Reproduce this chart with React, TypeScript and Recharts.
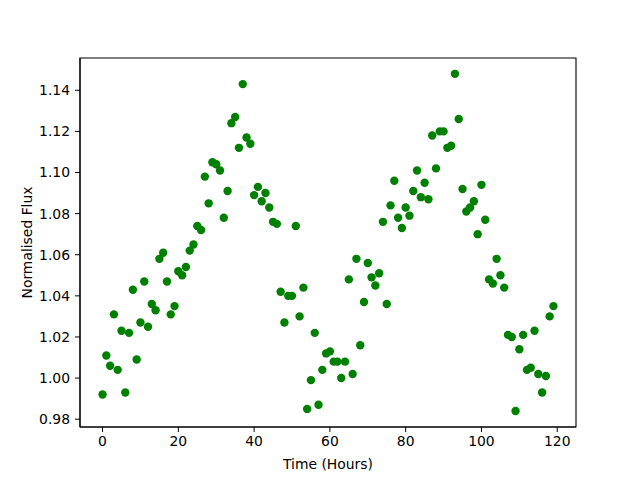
import { ScatterChart, Scatter, XAxis, YAxis, ReferenceArea } from 'recharts'

const hours = [
  0, 1, 2, 3, 4, 5, 6, 7, 8, 9, 10, 11, 12, 13, 14, 15, 16, 17, 18, 19,
  20, 21, 22, 23, 24, 25, 26, 27, 28, 29, 30, 31, 32, 33, 34, 35, 36, 37, 38, 39,
  40, 41, 42, 43, 44, 45, 46, 47, 48, 49, 50, 51, 52, 53, 54, 55, 56, 57, 58, 59,
  60, 61, 62, 63, 64, 65, 66, 67, 68, 69, 70, 71, 72, 73, 74, 75, 76, 77, 78, 79,
  80, 81, 82, 83, 84, 85, 86, 87, 88, 89, 90, 91, 92, 93, 94, 95, 96, 97, 98, 99,
  100, 101, 102, 103, 104, 105, 106, 107, 108, 109, 110, 111, 112, 113, 114, 115, 116, 117, 118, 119,
]

const flux = [
  0.992, 1.011, 1.006, 1.031, 1.004, 1.023, 0.993, 1.022, 1.043, 1.009,
  1.027, 1.047, 1.025, 1.036, 1.033, 1.058, 1.061, 1.047, 1.031, 1.035,
  1.052, 1.05, 1.054, 1.062, 1.065, 1.074, 1.072, 1.098, 1.085, 1.105,
  1.104, 1.101, 1.078, 1.091, 1.124, 1.127, 1.112, 1.143, 1.117, 1.114,
  1.089, 1.093, 1.086, 1.09, 1.083, 1.076, 1.075, 1.042, 1.027, 1.04,
  1.04, 1.074, 1.03, 1.044, 0.985, 0.999, 1.022, 0.987, 1.004, 1.012,
  1.013, 1.008, 1.008, 1.0, 1.008, 1.048, 1.002, 1.058, 1.016, 1.037,
  1.056, 1.049, 1.045, 1.051, 1.076, 1.036, 1.084, 1.096, 1.078, 1.073,
  1.083, 1.079, 1.091, 1.101, 1.088, 1.095, 1.087, 1.118, 1.102, 1.12,
  1.12, 1.112, 1.113, 1.148, 1.126, 1.092, 1.081, 1.083, 1.086, 1.07,
  1.094, 1.077, 1.048, 1.046, 1.058, 1.05, 1.044, 1.021, 1.02, 0.984,
  1.014, 1.021, 1.004, 1.005, 1.023, 1.002, 0.993, 1.001, 1.03, 1.035,
]

const xTicks = [0, 20, 40, 60, 80, 100, 120]
const yTicks = [0.98, 1.0, 1.02, 1.04, 1.06, 1.08, 1.1, 1.12, 1.14]
const xDomain = [-5.95, 124.95]
const yDomain = [0.9762, 1.1557]

const points = hours.map((h, i) => ({ x: h, y: flux[i] }))

const font = 'DejaVu Sans, sans-serif'
const tickStyle = { fontSize: 13.9, fill: '#000', fontFamily: font }

const Dot = (props: any) => <circle cx={props.cx} cy={props.cy} r={4.2} fill="#008000" />

const YLabel = (props: any) => {
  const vb = props.viewBox || { x: 0, y: 0, height: 0 }
  const cx = 27
  const cy = vb.y + vb.height / 2
  return (
    <text x={cx} y={cy} transform={`rotate(-90, ${cx}, ${cy})`} textAnchor="middle" dominantBaseline="central" fontSize={13.9} fontFamily={font} fill="#000">
      Normalised Flux
    </text>
  )
}

export default function App() {
  return (
    <div style={{ position: 'fixed', left: 0, top: 0, width: 640, height: 480, background: '#fff' }}>
      <ScatterChart width={640} height={480} margin={{ top: 58, right: 64, bottom: 0, left: 0 }} style={{ fontFamily: font }}>
        <XAxis type="number" dataKey="x" domain={xDomain} ticks={xTicks} allowDataOverflow height={53} tick={tickStyle} tickSize={5} tickMargin={4} tickLine={{ stroke: '#000' }} axisLine={{ stroke: '#000', strokeWidth: 1.1 }}
          label={{ value: 'Time (Hours)', position: 'insideBottom', offset: 11, fontSize: 13.9, fill: '#000', fontFamily: font }} />
        <YAxis type="number" dataKey="y" domain={yDomain} ticks={yTicks} allowDataOverflow width={80} tick={tickStyle} tickSize={5} tickMargin={5} tickFormatter={(v: number) => v.toFixed(2)} tickLine={{ stroke: '#000' }} axisLine={{ stroke: '#000', strokeWidth: 1.1 }}
          label={<YLabel />} />
        <ReferenceArea x1={xDomain[0]} x2={xDomain[1]} y1={yDomain[0]} y2={yDomain[1]} fill="none" fillOpacity={0} stroke="#000" strokeWidth={1.1} strokeOpacity={1} />
        <Scatter data={points} shape={Dot} isAnimationActive={false} />
      </ScatterChart>
    </div>
  )
}
